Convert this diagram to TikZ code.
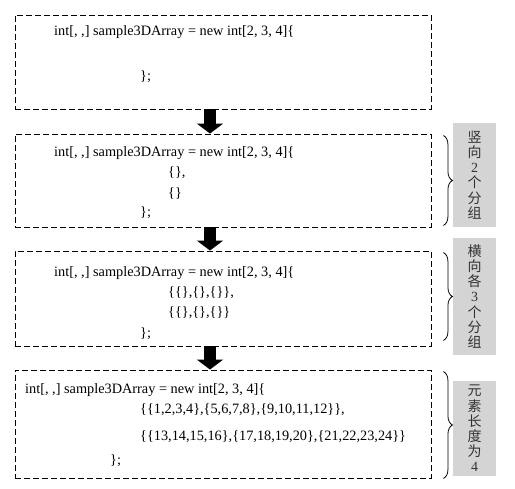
\documentclass[tikz,border=0pt]{standalone}
\usepackage{fontspec}
\setmainfont{Liberation Serif}
\newfontfamily\cjk{Noto Sans CJK SC}
\usepackage{tikz}
\usetikzlibrary{arrows.meta,decorations.pathreplacing}
\definecolor{labelgray}{RGB}{212,212,212}
\definecolor{labeltext}{RGB}{50,50,50}

\begin{document}
\begin{tikzpicture}[x=1pt, y=-1pt,
    codebox/.style={draw, dash pattern=on 6pt off 3pt, line width=0.9pt, inner sep=0pt, minimum width=416pt},
    codeline/.style={anchor=west, inner sep=0pt, font=\fontsize{14.3}{16}\selectfont},
    bigarrow/.style={line width=12pt, -{Triangle[width=26pt,length=10pt]}},
    grpbrace/.style={thick, decorate, decoration={brace, amplitude=9pt}},
    grplabel/.style={fill=labelgray, text=labeltext, minimum width=43pt, inner sep=0pt, align=center, font=\fontsize{14}{15.2}\selectfont}]

    \useasboundingbox (0,0) rectangle (515,489);

    % empty array
    \node[codebox, minimum height=94pt] (box1) at (223,62) {};
    \node[codeline] (decl1) at (54,32) {int[, ,] sample3DArray = new int[2, 3, 4]\{};
    \node[codeline] (end1) at (140,77) {\};};

    % two groups
    \node[codebox, minimum height=93pt] (box2) at (223,180.5) {};
    \node[codeline] (decl2) at (54,153) {int[, ,] sample3DArray = new int[2, 3, 4]\{};
    \node[codeline] (row2a) at (168,173) {\{\},};
    \node[codeline] (row2b) at (168,193) {\{\}};
    \node[codeline] (end2) at (140,213) {\};};

    % three groups each
    \node[codebox, minimum height=95pt] (box3) at (223,298.5) {};
    \node[codeline] (decl3) at (54,273) {int[, ,] sample3DArray = new int[2, 3, 4]\{};
    \node[codeline] (row3a) at (168,293) {\{\{\},\{\},\{\}\},};
    \node[codeline] (row3b) at (168,313) {\{\{\},\{\},\{\}\}};
    \node[codeline] (end3) at (140,334) {\};};

    % filled array
    \node[codebox, minimum height=108pt] (box4) at (223,424) {};
    \node[codeline] (decl4) at (25,390) {int[, ,] sample3DArray = new int[2, 3, 4]\{};
    \node[codeline] (row4a) at (140,410) {\{\{1,2,3,4\},\{5,6,7,8\},\{9,10,11,12\}\},};
    \node[codeline] (row4b) at (140,437) {\{\{13,14,15,16\},\{17,18,19,20\},\{21,22,23,24\}\}};
    \node[codeline] (end4) at (110,461) {\};};

    % arrows between steps
    \draw[bigarrow] ([xshift=-13pt]box1.south) -- ([xshift=-13pt]box2.north);
    \draw[bigarrow] ([xshift=-13pt]box2.south) -- ([xshift=-13pt]box3.north);
    \draw[bigarrow] ([xshift=-13pt]box3.south) -- ([xshift=-13pt]box4.north);

    % side notes
    \node[grplabel, minimum height=104pt] (note2) at (474.5,175) {{\cjk 竖}\\{\cjk 向}\\2\\{\cjk 个}\\{\cjk 分}\\{\cjk 组}};
    \node[grplabel, minimum height=117pt] (note3) at (474.5,296.5) {{\cjk 横}\\{\cjk 向}\\{\cjk 各}\\3\\{\cjk 个}\\{\cjk 分}\\{\cjk 组}};
    \node[grplabel, minimum height=95pt] (note4) at (474.5,428.5) {{\cjk 元}\\{\cjk 素}\\{\cjk 长}\\{\cjk 度}\\{\cjk 为}\\4};

    \draw[grpbrace] ([xshift=12pt, yshift=-2pt]box2.north east) -- ([xshift=12pt, yshift=2pt]box2.south east);
    \draw[grpbrace] ([xshift=12pt, yshift=-2pt]box3.north east) -- ([xshift=12pt, yshift=6pt]box3.south east);
    \draw[grpbrace] ([xshift=12pt, yshift=-2pt]box4.north east) -- ([xshift=12pt]box4.south east);

\end{tikzpicture}
\end{document}
